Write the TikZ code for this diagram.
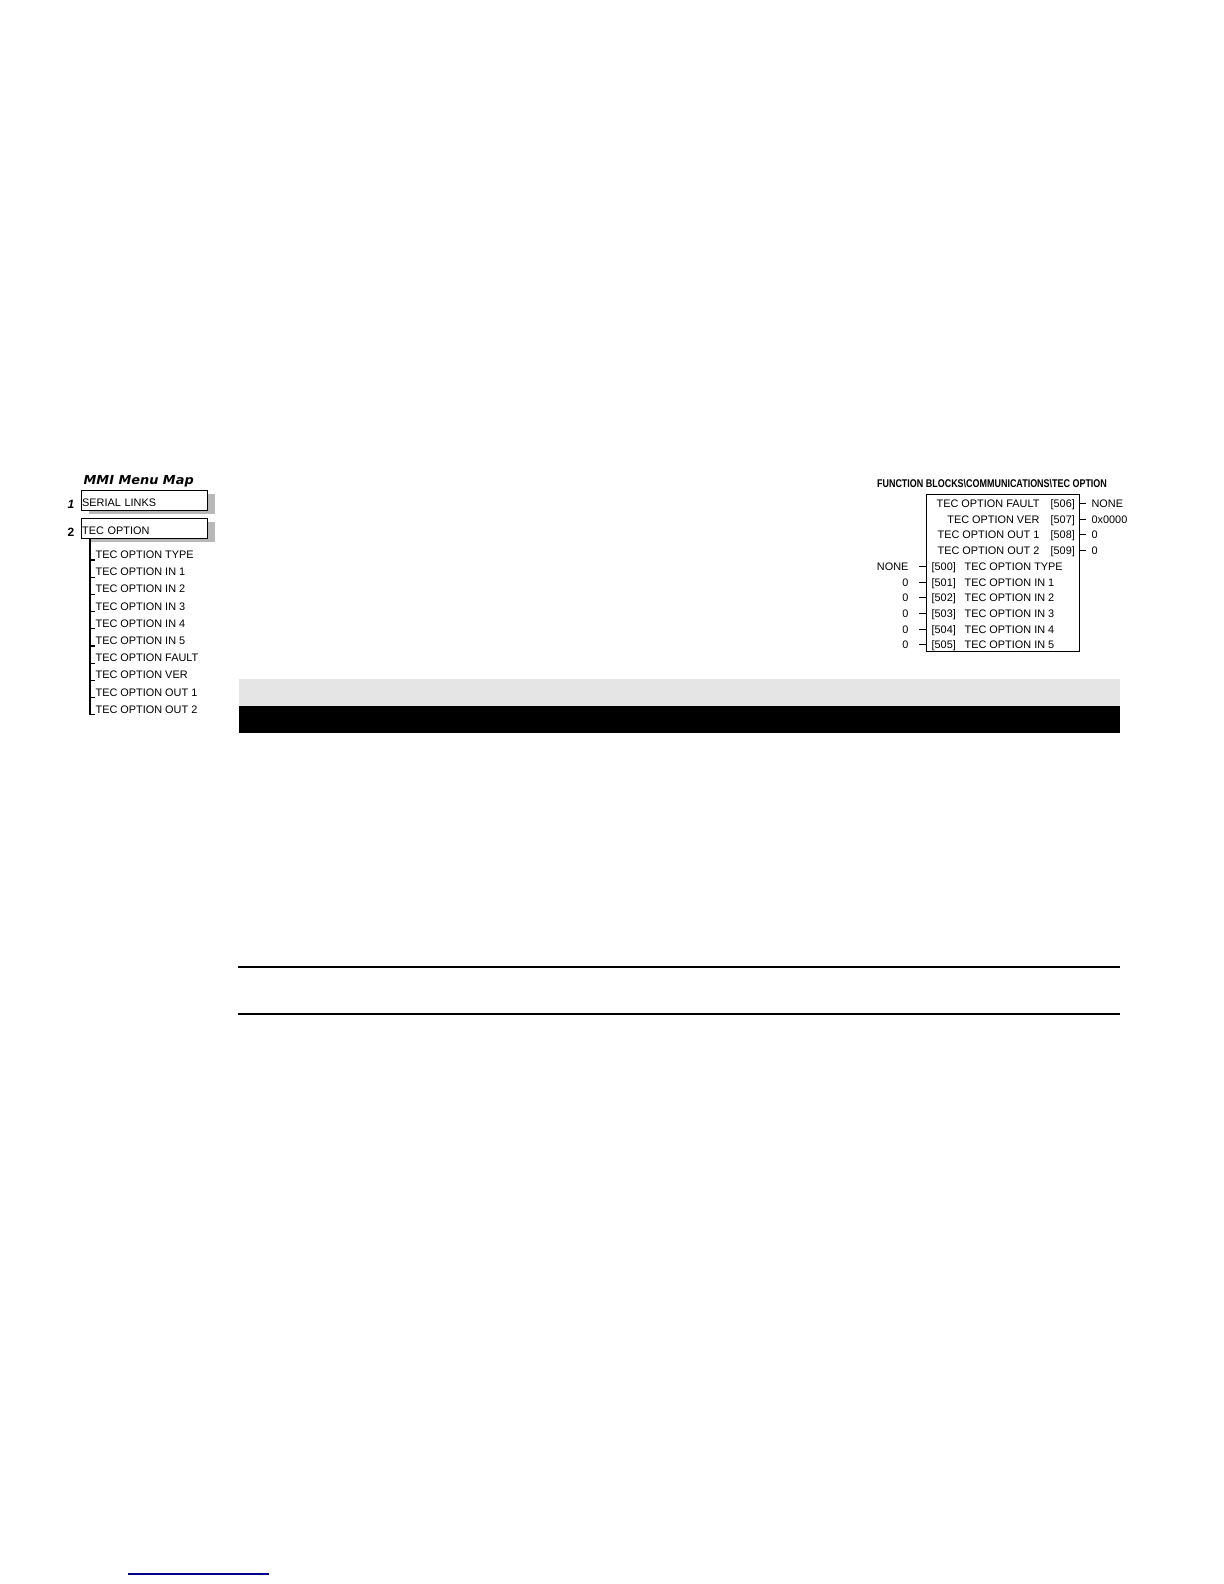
\documentclass[tikz,border=0pt]{standalone}
\usepackage{fontspec}
\setmainfont{Liberation Sans}
\newfontfamily\mapfont{DejaVu Sans}
\usetikzlibrary{positioning}

\begin{document}
\begin{tikzpicture}[x=0.5pt,y=-0.5pt,inner sep=0pt,semithick,font=\fontsize{5.45}{6.5}\selectfont]
\tikzstyle{txt}=[text height=4pt,text depth=0pt]
\tikzstyle{menubox}=[draw=black,line width=0.6pt,fill=white,anchor=north west,minimum width=63pt,minimum height=10pt,text width=62.4pt,align=left,text height=6pt,text depth=0pt]
\useasboundingbox (0,0) rectangle (1224,1584);

% menu map
\node[anchor=west] (mmi) at (83,481) {\mapfont\fontsize{6.2}{7}\selectfont\bfseries\itshape\scalebox{1.04}[1]{MMI Menu Map}};
\fill[black!28] (89,494) rectangle (215,514);
\node[menubox] (serial) at (81,490) {SERIAL LINKS};
\node[anchor=center] (one) at (71,504) {\fontsize{6}{7}\selectfont\bfseries\itshape 1};
\fill[black!28] (89,522) rectangle (215,542);
\node[menubox] (tec) at (81,518) {TEC OPTION};
\node[anchor=center] (two) at (71,532) {\fontsize{6}{7}\selectfont\bfseries 2};
\coordinate (trunk) at (90,538);
\foreach \t [count=\i] in {TEC OPTION TYPE,TEC OPTION IN 1,TEC OPTION IN 2,TEC OPTION IN 3,TEC OPTION IN 4,TEC OPTION IN 5,TEC OPTION FAULT,TEC OPTION VER,TEC OPTION OUT 1,TEC OPTION OUT 2}{
  \node[anchor=west,txt] (m\i) at (95,537.3+17.2*\i) {\t};
  \coordinate (t\i) at (90,542.8+17.2*\i);
  \draw[line width=0.6pt] (t\i) -- (t\i -| m\i.west);
}
\draw[line width=0.6pt] (trunk) -- ([yshift=-0.3pt]t10);

% function block
\node (title) at (992,483.5) {\fontsize{5.6}{6.5}\selectfont\bfseries\scalebox{0.8}[1]{FUNCTION BLOCKS\textbackslash COMMUNICATIONS\textbackslash TEC OPTION}};
\node[draw,line width=0.5pt,anchor=north west,minimum width=76.5pt,minimum height=78.5pt] (fb) at (926,494) {};
\foreach \n/\p/\v/\y in {FAULT/506/NONE/503.5,VER/507/0x0000/519.2,OUT 1/508/0/534.9,OUT 2/509/0/550.6}{
  \node[anchor=east,txt] (o\p) at (1040,\y) {TEC OPTION \n};
  \node[anchor=west,txt] (p\p) at (1050,\y) {[\p]};
  \node[anchor=west,txt] (v\p) at (1091,\y) {\v};
  \draw[line width=0.5pt] (fb.east |- v\p) -- ([xshift=-2.5pt]v\p.west);
}
\foreach \n/\p/\v/\y in {TYPE/500/NONE/566.3,IN 1/501/0/582,IN 2/502/0/597.7,IN 3/503/0/613.4,IN 4/504/0/629.1,IN 5/505/0/644.8}{
  \node[anchor=east,txt] (v\p) at (909,\y) {\v};
  \node[anchor=west,txt] (p\p) at (931,\y) {[\p]};
  \node[anchor=west,txt] (i\p) at (964,\y) {TEC OPTION \n};
  \draw[line width=0.5pt] ([xshift=5pt]v\p.east) -- (fb.west |- v\p);
}

% table bars and rules
\fill[black!10] (239,679) rectangle (1120,706);
\fill[black] (239,706) rectangle (1120,733);
\draw[line width=1pt] (238,967) -- (1120,967);
\draw[line width=1pt] (238,1014) -- (1120,1014);
\draw[line width=0.8pt,color={rgb,255:red,0;green,0;blue,140}] (128,1574) -- (269,1574);
\end{tikzpicture}
\end{document}
